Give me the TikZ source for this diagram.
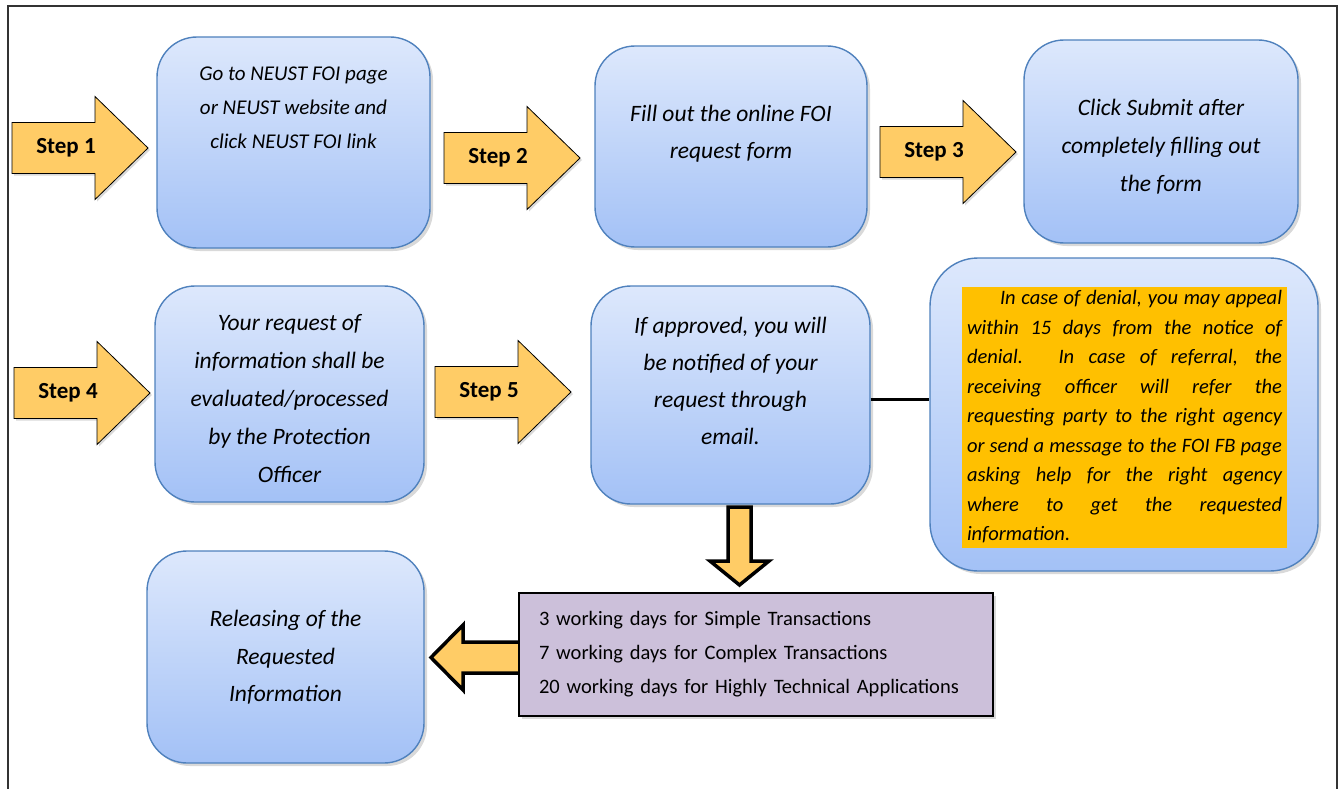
\documentclass[tikz,border=0pt]{standalone}
\usepackage{fontspec}
\setmainfont{Carlito}
\usetikzlibrary{shadows,positioning}

\definecolor{boxtop}{HTML}{DDE8FC}
\definecolor{boxbottom}{HTML}{A3C1F6}
\definecolor{boxline}{HTML}{4F81BD}
\definecolor{arrowfill}{HTML}{FFCC66}
\definecolor{lilac}{HTML}{CCC0DA}
\definecolor{amber}{HTML}{FFC000}

\tikzset{
  stepbox/.style={rounded corners=40pt, draw=boxline, line width=1.4pt,
    top color=boxtop, bottom color=boxbottom,
    drop shadow={shadow xshift=3pt, shadow yshift=-3pt, opacity=.3}},
  boxtext/.style={align=center, inner sep=0pt,
    font=\itshape\fontsize{23.5}{38}\selectfont},
  steplabel/.style={font=\bfseries\fontsize{23}{26}\selectfont, inner sep=0pt},
  blockarrow/.style={fill=arrowfill, line join=miter}
}

\begin{document}
\begin{tikzpicture}[x=1pt, y=-1pt]
\useasboundingbox (0,0) rectangle (1338,789);

% Frame
\draw [black!80, line width=1.2pt] (8,6) rectangle (1337,820);

\newcommand{\steparrow}[4]{% name, x, y, label
  \draw [blockarrow, line width=.8pt,
      drop shadow={shadow xshift=2pt, shadow yshift=-2pt, opacity=.3}]
    (#2,#3) coordinate (#1) ++(0,-25.5) -- ++(83,0) -- ++(0,-26)
    -- ++(53,51.5) -- ++(-53,51.5) -- ++(0,-26) -- ++(-83,0) -- cycle;
  \node [steplabel] (#1-label) at ([xshift=54pt]#1) {#4};
}
\newcommand{\fullline}[2][315pt]{\makebox[#1][s]{\spaceskip=0pt\xspaceskip=0pt\relax #2}}

% Step arrows
\steparrow{s1}{12}{148}{Step 1}
\steparrow{s2}{444}{158}{Step 2}
\steparrow{s3}{880}{152}{Step 3}
\steparrow{s4}{14}{393}{Step 4}
\steparrow{s5}{435}{392}{Step 5}

% First row
\node [stepbox, minimum width=273pt, minimum height=211pt] (visit) at (293.5,142.5) {};
\node [boxtext, font=\itshape\fontsize{21}{34}\selectfont] (visit-text) at (293.5,108)
  {Go to NEUST FOI page\\ or NEUST website and\\ click NEUST FOI link};

\node [stepbox, minimum width=272pt, minimum height=201pt] (form) at (731,146.5) {};
\node [boxtext, font=\itshape\fontsize{23.5}{37}\selectfont] (form-text) at (731,133.5)
  {Fill out the online FOI\\ request form};

\node [stepbox, minimum width=274pt, minimum height=203pt] (submit) at (1161,141.5) {};
\node [boxtext] (submit-text) at (1161,146.5)
  {Click Submit after\\ completely filling out\\ the form};

% Second row
\node [stepbox, minimum width=269pt, minimum height=216pt] (evaluate) at (289.5,394) {};
\node [boxtext] (evaluate-text) at (289.5,398.5)
  {Your request of\\ information shall be\\ evaluated/processed\\ by the Protection\\ Officer};

\node [stepbox, minimum width=279pt, minimum height=218pt] (notify) at (730.5,395) {};
\node [boxtext, font=\itshape\fontsize{23.5}{37}\selectfont] (notify-text) at (730.5,380.5)
  {If approved, you will\\ be notified of your\\ request through\\ email.};

% Denial / referral note
\node [stepbox, rounded corners=48pt, minimum width=388pt, minimum height=313pt] (denial) at (1124,414.5) {};
\node [fill=amber, text width=315pt, inner xsep=5pt, inner ysep=0pt, minimum height=261pt,
    align=left, font=\itshape\fontsize{20.5}{29.5}\selectfont] (denial-text) at (1124.5,417)
  {\hspace*{33pt}\fullline[282pt]{In case of denial, you may appeal}\\
   \fullline{within 15 days from the notice of}\\
   \fullline{denial. In case of referral, the}\\
   \fullline{receiving officer will refer the}\\
   \fullline{requesting party to the right agency}\\
   \fullline{or send a message to the FOI FB page}\\
   \fullline{asking help for the right agency}\\
   \fullline{where to get the requested}\\
   information.};

\draw [line width=3pt] ([yshift=-4pt]notify.east) -- ([yshift=-4pt]notify.east -| denial.west);

% Processing time
\draw [blockarrow, line width=3.5pt]
  (728,507) -- (728,561) -- (710,561) -- (739.5,585) -- (769,561) -- (751,561) -- (751,507) -- cycle;

\draw [blockarrow, line width=3.5pt]
  (524,642) -- (463,642) -- (463,625) -- (431,657.5) -- (463,690) -- (463,673) -- (524,673);

\node [draw=black, line width=1.5pt, fill=lilac, minimum width=474pt, minimum height=123pt,
    text width=434pt, inner xsep=20pt, align=left, font=\fontsize{20.5}{34}\selectfont,
    drop shadow={shadow xshift=3pt, shadow yshift=-3pt, opacity=.3}] (days) at (756,654.5)
  {3 working days for Simple Transactions\\
   7 working days for Complex Transactions\\
   20 working days for Highly Technical Applications};

% Release
\node [stepbox, minimum width=277pt, minimum height=212pt] (release) at (285.5,657) {};
\node [boxtext, font=\itshape\fontsize{23.5}{37.5}\selectfont] (release-text) at (285.5,657.5)
  {Releasing of the\\ Requested\\ Information};

\end{tikzpicture}
\end{document}
